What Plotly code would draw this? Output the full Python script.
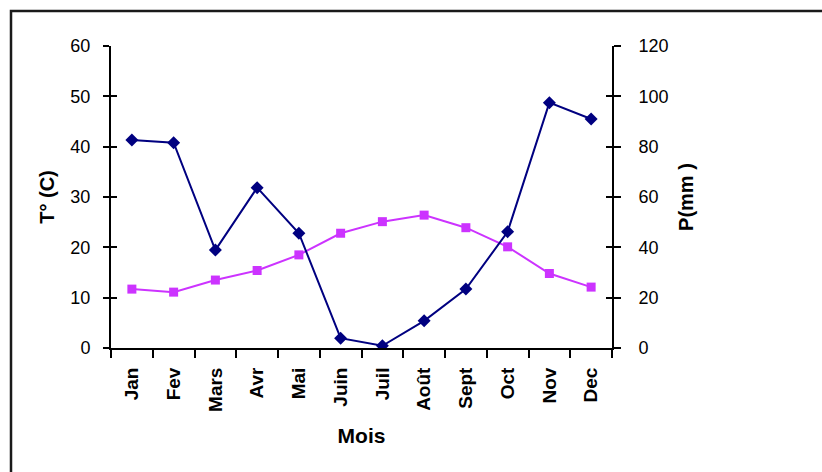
import plotly.graph_objects as go

# Monthly climate normals: temperature (°C, left axis) and precipitation (mm, right axis)
months = ["Jan", "Fev", "Mars", "Avr", "Mai", "Juin", "Juil", "Août", "Sept", "Oct", "Nov", "Dec"]
temperature = [11.7, 11.1, 13.5, 15.4, 18.5, 22.8, 25.1, 26.4, 23.9, 20.1, 14.8, 12.1]
precipitation = [82.6, 81.6, 38.9, 63.7, 45.6, 3.9, 0.9, 10.8, 23.4, 46.2, 97.5, 91.0]

t_ticks = [0, 10, 20, 30, 40, 50, 60]
p_ticks = [0, 20, 40, 60, 80, 100, 120]

FONT = "Arial, Liberation Sans, sans-serif"
W, H = 822, 472
L, R, T, B = 111, 210, 46, 124
plot_w = W - L - R
plot_h = H - T - B

fig = go.Figure()

fig.add_trace(go.Scatter(
    x=months, y=temperature, name="T° (C)", mode="lines+markers",
    line=dict(color="#CC33FF", width=2),
    marker=dict(symbol="square", size=9, color="#CC33FF"),
    yaxis="y",
))
fig.add_trace(go.Scatter(
    x=months, y=precipitation, name="P(mm )", mode="lines+markers",
    line=dict(color="#000080", width=2),
    marker=dict(symbol="diamond", size=10, color="#000080"),
    yaxis="y2",
))
# empty traces so the inner tick axes get drawn (ticks crossing both axes)
fig.add_trace(go.Scatter(x=[months[0]], y=[None], yaxis="y3", showlegend=False, hoverinfo="skip"))
fig.add_trace(go.Scatter(x=[months[0]], y=[None], yaxis="y4", showlegend=False, hoverinfo="skip"))

axis_common = dict(showgrid=False, zeroline=False, color="black", tickcolor="black",
                   tickwidth=2, linecolor="black", linewidth=2)
num_font = dict(family=FONT, size=18, color="black")
title_font = dict(family=FONT, size=20, color="black", weight="bold")

fig.update_layout(
    width=W, height=H, autosize=False,
    margin=dict(l=L, r=R, t=T, b=B),
    paper_bgcolor="white", plot_bgcolor="white",
    showlegend=False,
    xaxis=dict(
        **axis_common, type="category", range=[-0.5, 11.5], tickson="boundaries",
        ticks="outside", ticklen=8, showline=True, tickangle=-90,
        tickfont=dict(family=FONT, size=19, color="black", weight="bold"),
        ticklabelstandoff=10,
        title=dict(text="Mois", font=dict(family=FONT, size=21, color="black", weight="bold"),
                   standoff=17),
    ),
    yaxis=dict(
        **axis_common, range=[0, 60], tickvals=t_ticks, ticks="outside", ticklen=6,
        showline=True, tickfont=num_font, ticklabelstandoff=9,
        title=dict(text="T° (C)", font=title_font, standoff=10),
    ),
    yaxis2=dict(
        **axis_common, range=[0, 120], tickvals=p_ticks, ticks="outside", ticklen=7,
        showline=True, overlaying="y", side="right", anchor="x",
        tickfont=num_font, ticklabelstandoff=14,
        title=dict(text="P(mm )", font=title_font, standoff=11),
    ),
    yaxis3=dict(
        **axis_common, range=[0, 60], tickvals=t_ticks, ticks="inside", ticklen=6,
        showline=False, showticklabels=False, overlaying="y", side="left", anchor="x",
    ),
    yaxis4=dict(
        **axis_common, range=[0, 120], tickvals=p_ticks, ticks="inside", ticklen=6,
        showline=False, showticklabels=False, overlaying="y", side="right", anchor="x",
    ),
)

# outer frame around the chart area (open at the right and bottom edges)
px_x = lambda p: (p - L) / plot_w
px_y = lambda p: (H - B - p) / plot_h
fig.add_shape(type="rect", xref="paper", yref="paper",
              x0=px_x(11), x1=px_x(W + 20), y0=px_y(11), y1=px_y(H + 20),
              line=dict(color="#1a1a1a", width=2.5), fillcolor="rgba(0,0,0,0)", layer="below")

fig.write_html("out.html")
